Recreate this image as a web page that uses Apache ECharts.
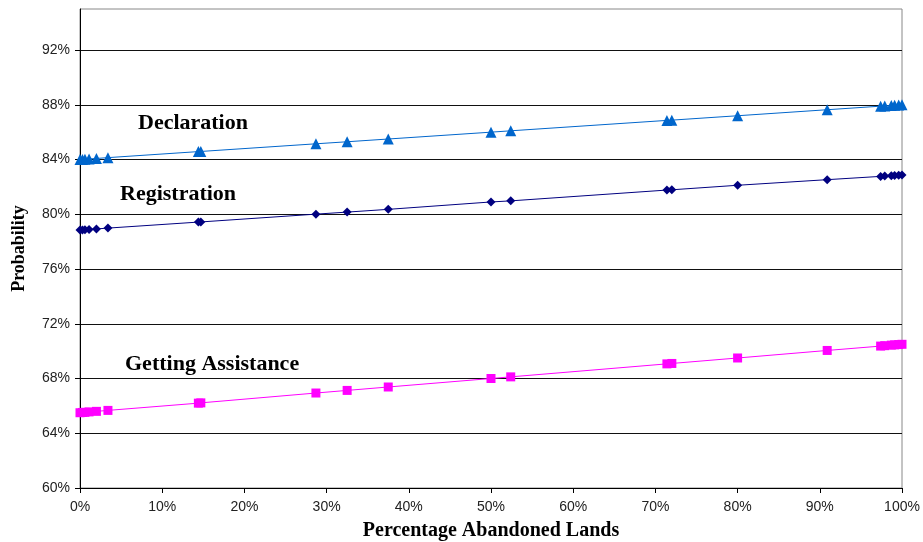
<!DOCTYPE html>
<html>
<head>
<meta charset="utf-8">
<script src="https://cdn.jsdelivr.net/npm/echarts@6/dist/echarts.min.js"></script>
<style>html,body{margin:0;padding:0;background:#fff}#c{width:923px;height:542px}</style>
</head>
<body>
<div id="c"></div>
<script>
// Percentage of abandoned lands (x, %)
const abandonedPct = [0, 0.3, 0.6, 1.1, 2.0, 3.4, 14.4, 14.7, 28.7, 32.5, 37.5, 50.0, 52.4, 71.4, 72.0, 80.0, 90.9, 97.4, 97.9, 98.7, 99.1, 99.6, 100];
// Probabilities (%)
const declaration = [84.00, 84.01, 84.02, 84.04, 84.08, 84.14, 84.58, 84.59, 85.15, 85.30, 85.50, 86.00, 86.10, 86.86, 86.88, 87.20, 87.64, 87.90, 87.92, 87.95, 87.96, 87.98, 88.00];
const registration = [78.85, 78.86, 78.87, 78.89, 78.93, 78.99, 79.43, 79.44, 80.01, 80.16, 80.36, 80.90, 80.98, 81.77, 81.79, 82.12, 82.53, 82.77, 82.79, 82.82, 82.84, 82.86, 82.87];
const assistance = [65.50, 65.52, 65.53, 65.56, 65.60, 65.67, 66.20, 66.22, 66.94, 67.13, 67.38, 68.00, 68.12, 69.07, 69.10, 69.50, 70.05, 70.37, 70.40, 70.44, 70.46, 70.48, 70.50];
const seriesNames = ['Declaration', 'Registration', 'Getting Assistance'];
// Tick labels
const yTicks = [60, 64, 68, 72, 76, 80, 84, 88, 92];
const xTicks = [0, 10, 20, 30, 40, 50, 60, 70, 80, 90, 100];

const pairs = arr => abandonedPct.map((x, i) => [x, arr[i]]);
const chart = echarts.init(document.getElementById('c'), null, {renderer: 'canvas'});
const serif = '"Liberation Serif", "Times New Roman", serif';
const sans = '"Liberation Sans", Arial, sans-serif';

function lineSeries(name, data, color, symbol, size) {
  return {
    name: name, type: 'line', data: pairs(data), symbol: symbol, symbolSize: size,
    showAllSymbol: true, animation: false,
    lineStyle: {color: color, width: 1}, itemStyle: {color: color}
  };
}

const splitColors = yTicks.map(() => '#111').concat(['#888']);

chart.setOption({
  animation: false,
  grid: {left: 80, right: 21, top: 9, bottom: 54, show: true, borderColor: '#888', borderWidth: 1, outerBoundsMode: 'none', containLabel: false},
  xAxis: {
    type: 'value', min: 0, max: 100, interval: 10,
    name: 'Percentage Abandoned Lands', nameLocation: 'middle', nameGap: 33,
    nameTextStyle: {fontFamily: serif, fontWeight: 'bold', fontSize: 20, color: '#000'},
    axisLine: {show: true, lineStyle: {color: '#000', width: 1}},
    axisTick: {show: true, length: 5, inside: false, lineStyle: {color: '#000'}, customValues: xTicks},
    axisLabel: {formatter: v => v + '%', fontFamily: sans, fontSize: 14, color: '#222', margin: 12, customValues: xTicks},
    splitLine: {show: false}
  },
  yAxis: {
    type: 'value', min: 60, max: 95, interval: 4,
    name: 'Probability', nameLocation: 'middle', nameGap: 52,
    nameTextStyle: {fontFamily: serif, fontWeight: 'bold', fontSize: 18, color: '#000'},
    axisLine: {show: true, lineStyle: {color: '#000', width: 1}},
    axisTick: {show: true, length: 5, inside: false, lineStyle: {color: '#000'}, customValues: yTicks},
    axisLabel: {formatter: v => v + '%', fontFamily: sans, fontSize: 14, color: '#222', margin: 10, customValues: yTicks},
    splitLine: {show: true, lineStyle: {color: splitColors, width: 1}}
  },
  series: [
    lineSeries(seriesNames[0], declaration, '#0066CC', 'triangle', 11),
    lineSeries(seriesNames[1], registration, '#000080', 'diamond', 9),
    lineSeries(seriesNames[2], assistance, '#FF00FF', 'rect', 9)
  ],
  graphic: [
    {type: 'text', left: 138, top: 112, style: {text: seriesNames[0], font: 'bold 22px ' + serif, fill: '#000'}},
    {type: 'text', left: 120, top: 183, style: {text: seriesNames[1], font: 'bold 22px ' + serif, fill: '#000'}},
    {type: 'text', left: 125, top: 353, style: {text: seriesNames[2], font: 'bold 22px ' + serif, fill: '#000'}}
  ]
});
</script>
</body>
</html>
